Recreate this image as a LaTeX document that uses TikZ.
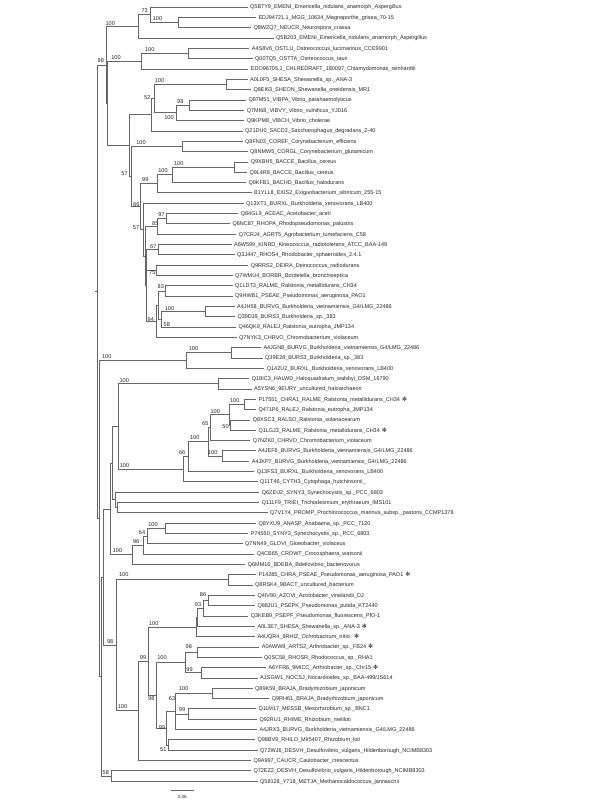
\documentclass[tikz,border=0pt]{standalone}
\usepackage{fontspec}
\newfontfamily\lsans{Liberation Sans}
\newfontfamily\djv{DejaVu Sans}
\newcommand{\mystar}{\hspace{2pt}{\djv\fontsize{6}{6}\selectfont ✻}}
\begin{document}
\begin{tikzpicture}[x=1pt,y=-1pt]
\tikzset{
  br/.style={draw=black!60, line width=0.6pt},
  lf/.style={anchor=west, inner xsep=2.5pt, inner ysep=0pt, text height=4.5pt, text depth=0.5pt, text=black!85, font=\lsans\fontsize{5.5}{6}\selectfont},
  bs/.style={inner sep=0pt, text=black!85, font=\lsans\fontsize{5.6}{6}\selectfont},
}
\useasboundingbox (0,0) rectangle (600,800);
\fill[white] (0,0) rectangle (600,800);
% leaves
\node[lf] (L1) at (247.5,7.00) {Q5B7Y9\_EMENI\_Emericella\_nidulans\_anamorph\_Aspergillus};
\node[lf] (L2) at (255.8,17.32) {EDJ94721.1\_MGG\_10634\_Magnaporthe\_grisea\_70-15};
\node[lf] (L3) at (250.8,27.64) {Q8WZQ7\_NEUCR\_Neurospora\_crassa};
\node[lf] (L4) at (273.5,37.96) {Q5B203\_EMENI\_Emericella\_nidulans\_anamorph\_Aspergillus};
\node[lf] (L5) at (249.2,48.28) {A4S8V6\_OSTLU\_Ostreococcus\_lucimarinus\_CCE9901};
\node[lf] (L6) at (252.5,58.60) {Q00TQ5\_OSTTA\_Ostreococcus\_tauri};
\node[lf] (L7) at (248.2,68.92) {EDO96705.1\_CHLREDRAFT\_180097\_Chlamydomonas\_reinhardtii};
\node[lf] (L8) at (247.5,79.24) {A0L0F5\_SHESA\_Shewanella\_sp.\_ANA-3};
\node[lf] (L9) at (250.8,89.56) {Q8EI63\_SHEON\_Shewanella\_oneidensis\_MR1};
\node[lf] (L10) at (245.8,99.88) {Q87M51\_VIBPA\_Vibrio\_parahaemolyticus};
\node[lf] (L11) at (244.2,110.20) {Q7MI68\_VIBVY\_Vibrio\_vulnificus\_YJ016};
\node[lf] (L12) at (244.2,120.52) {Q9KPM8\_VIBCH\_Vibrio\_cholerae};
\node[lf] (L13) at (242.5,130.84) {Q21DU0\_SACD2\_Saccharophagus\_degradans\_2-40};
\node[lf] (L14) at (242.5,141.16) {Q8FN03\_COREF\_Corynebacterium\_efficiens};
\node[lf] (L15) at (247.5,151.48) {Q8NMW5\_CORGL\_Corynebacterium\_glutamicum};
\node[lf] (L16) at (248.2,161.80) {Q9XBH5\_BACCE\_Bacillus\_cereus};
\node[lf] (L17) at (246.8,172.12) {Q9L4R8\_BACCE\_Bacillus\_cereus};
\node[lf] (L18) at (245.8,182.44) {Q9KFB1\_BACHD\_Bacillus\_halodurans};
\node[lf] (L19) at (251.5,192.76) {B1YLL8\_EXIS2\_Exiguobacterium\_sibiricum\_255-15};
\node[lf] (L20) at (243.5,203.08) {Q13XT1\_BURXL\_Burkholderia\_xenovorans\_LB400};
\node[lf] (L21) at (238.2,213.40) {Q84GL9\_ACEAC\_Acetobacter\_aceti};
\node[lf] (L22) at (229.8,223.72) {Q6NC87\_RHOPA\_Rhodopseudomonas\_palustris};
\node[lf] (L23) at (236.2,234.04) {Q7CRJ4\_AGRT5\_Agrobacterium\_tumefaciens\_C58};
\node[lf] (L24) at (231.5,244.36) {A6W599\_KINRD\_Kineococcus\_radiotolerans\_ATCC\_BAA-149};
\node[lf] (L25) at (234.5,254.68) {Q3J447\_RHOS4\_Rhodobacter\_sphaeroides\_2.4.1};
\node[lf] (L26) at (248.2,265.00) {Q9RRS2\_DEIRA\_Deinococcus\_radiodurans};
\node[lf] (L27) at (232.5,275.32) {Q7WMU4\_BORBR\_Bordetella\_bronchiseptica};
\node[lf] (L28) at (232.5,285.64) {Q1LDT3\_RALME\_Ralstonia\_metallidurans\_CH34};
\node[lf] (L29) at (232.5,295.96) {Q9HWB1\_PSEAE\_Pseudomonas\_aeruginosa\_PAO1};
\node[lf] (L30) at (234.5,306.28) {A4JH58\_BURVG\_Burkholderia\_vietnamiensis\_G4/LMG\_22486};
\node[lf] (L31) at (234.8,316.60) {Q39DJ9\_BURS3\_Burkholderia\_sp.\_383};
\node[lf] (L32) at (235.8,326.92) {Q46QK9\_RALEJ\_Ralstonia\_eutropha\_JMP134};
\node[lf] (L33) at (236.5,337.24) {Q7NYK3\_CHRVO\_Chromobacterium\_violaceum};
\node[lf] (L34) at (260.8,347.56) {A4JGN8\_BURVG\_Burkholderia\_vietnamiensis\_G4/LMG\_22486};
\node[lf] (L35) at (262.5,357.88) {Q39E28\_BURS3\_Burkholderia\_sp.\_383};
\node[lf] (L36) at (264.2,368.20) {Q142U2\_BURXL\_Burkholderia\_xenovorans\_LB400};
\node[lf] (L37) at (249.2,378.52) {Q18IC3\_HALWD\_Haloquadratum\_walsbyi\_DSM\_16790};
\node[lf] (L38) at (251.5,388.84) {A5YSN6\_9EURY\_uncultured\_haloarchaeon};
\node[lf] (L39) at (255.8,399.16) {P17551\_CHRA1\_RALME\_Ralstonia\_metallidurans\_CH34\mystar};
\node[lf] (L40) at (255.8,409.48) {Q471P6\_RALEJ\_Ralstonia\_eutropha\_JMP134};
\node[lf] (L41) at (250.2,419.80) {Q8XSC3\_RALSO\_Ralstonia\_solanacearum};
\node[lf] (L42) at (255.8,430.12) {Q1LGJ3\_RALME\_Ralstonia\_metallidurans\_CH34\mystar};
\node[lf] (L43) at (250.2,440.44) {Q7NZK0\_CHRVO\_Chromobacterium\_violaceum};
\node[lf] (L44) at (255.5,450.76) {A4JEF6\_BURVG\_Burkholderia\_vietnamiensis\_G4/LMG\_22486};
\node[lf] (L45) at (249.2,461.08) {A4JKP7\_BURVG\_Burkholderia\_vietnamiensis\_G4/LMG\_22486};
\node[lf] (L46) at (254.2,471.40) {Q13FS3\_BURXL\_Burkholderia\_xenovorans\_LB400};
\node[lf] (L47) at (257.5,481.72) {Q11T46\_CYTH3\_Cytophaga\_hutchinsonii\_};
\node[lf] (L48) at (259.2,492.04) {Q6ZEU2\_SYNY3\_Synechocystis\_sp.\_PCC\_6803};
\node[lf] (L49) at (259.2,502.36) {Q111F9\_TRIEI\_Trichodesmium\_erythraeum\_IMS101};
\node[lf] (L50) at (267.5,512.68) {Q7V1Y4\_PROMP\_Prochlorococcus\_marinus\_subsp.\_pastoris\_CCMP1378};
\node[lf] (L51) at (255.8,523.00) {Q8YXU9\_ANASP\_Anabaena\_sp.\_PCC\_7120};
\node[lf] (L52) at (248.2,533.32) {P74550\_SYNY3\_Synechocystis\_sp.\_PCC\_6803};
\node[lf] (L53) at (242.5,543.64) {Q7NN49\_GLOVI\_Gloeobacter\_violaceus};
\node[lf] (L54) at (254.2,553.96) {Q4CB65\_CROWT\_Crocosphaera\_watsonii};
\node[lf] (L55) at (245.2,564.28) {Q6MM16\_BDEBA\_Bdellovibrio\_bacteriovorus};
\node[lf] (L56) at (255.8,574.60) {P14285\_CHRA\_PSEAE\_Pseudomonas\_aeruginosa\_PAO1\mystar};
\node[lf] (L57) at (252.5,584.92) {Q8RSK4\_9BACT\_uncultured\_bacterium};
\node[lf] (L58) at (254.8,595.24) {Q4IV90\_AZOVI\_Azotobacter\_vinelandii\_DJ};
\node[lf] (L59) at (254.8,605.56) {Q88JU1\_PSEPK\_Pseudomonas\_putida\_KT2440};
\node[lf] (L60) at (248.2,615.88) {Q3KEB9\_PSEPF\_Pseudomonas\_fluorescens\_PfO-1};
\node[lf] (L61) at (254.8,626.20) {A0L3E7\_SHESA\_Shewanella\_sp.\_ANA-3\mystar};
\node[lf] (L62) at (254.8,636.52) {A4UQR4\_9RHIZ\_Ochrobactrum\_tritici\hspace{1.5pt}\mystar};
\node[lf] (L63) at (259.2,646.84) {A0AWW9\_ARTS2\_Arthrobacter\_sp.\_FB24\mystar};
\node[lf] (L64) at (261.5,657.16) {Q0SC58\_RHOSR\_Rhodococcus\_sp.\_RHA1};
\node[lf] (L65) at (265.8,667.48) {A6YFR6\_9MICC\_Arthrobacter\_sp.\_Chr15\mystar};
\node[lf] (L66) at (257.5,677.80) {A1SGW1\_NOCSJ\_Nocardioides\_sp.\_BAA-499/JS614};
\node[lf] (L67) at (252.5,688.12) {Q89K59\_BRAJA\_Bradyrhizobium\_japonicum};
\node[lf] (L68) at (269.2,698.44) {Q9RH61\_BRAJA\_Bradyrhizobium\_japonicum};
\node[lf] (L69) at (255.8,708.76) {Q11M17\_MESSB\_Mesorhizobium\_sp.\_BNC1};
\node[lf] (L70) at (256.8,719.08) {Q92RU1\_RHIME\_Rhizobium\_meliloti};
\node[lf] (L71) at (256.8,729.40) {A4JRX3\_BURVG\_Burkholderia\_vietnamiensis\_G4/LMG\_22486};
\node[lf] (L72) at (254.8,739.72) {Q98BV9\_RHILO\_Mlr5407\_Rhizobium\_loti};
\node[lf] (L73) at (257.5,750.04) {Q72WJ6\_DESVH\_Desulfovibrio\_vulgaris\_Hildenborough\_NCIMB8303};
\node[lf] (L74) at (250.8,760.36) {Q9A997\_CAUCR\_Caulobacter\_crescentus};
\node[lf] (L75) at (250.8,770.68) {Q72EZ2\_DESVH\_Desulfovibrio\_vulgaris\_Hildenborough\_NCIMB8303};
\node[lf] (L76) at (257.5,781.00) {Q58128\_Y718\_METJA\_Methanocaldococcus\_jannaschii};
% internal nodes
\coordinate (iroot) at (97.3,291.6);
\coordinate (istub) at (95.3,291.6);
\coordinate (iB) at (106,64.87);
\coordinate (iFu) at (138.3,26.35);
\coordinate (i73) at (150.7,14.74);
\coordinate (i23) at (178,22.48);
\coordinate (iC) at (107.3,103.38);
\coordinate (iAlg) at (141.7,61.18);
\coordinate (i56) at (188.3,53.44);
\coordinate (iD) at (129.3,145.58);
\coordinate (iY) at (151.7,114.7);
\coordinate (iX) at (154,98.59);
\coordinate (i89) at (226.7,84.4);
\coordinate (i176) at (176,112.78);
\coordinate (i1011) at (189,105.04);
\coordinate (iE) at (131.5,176.46);
\coordinate (i1415) at (182.7,146.32);
\coordinate (iF) at (140.7,206.6);
\coordinate (i99) at (157.3,183.73);
\coordinate (i100b) at (172.7,174.7);
\coordinate (i1617) at (234.3,166.96);
\coordinate (iG) at (143.5,229.44);
\coordinate (iH) at (145,255.8);
\coordinate (i85) at (157.3,226.3);
\coordinate (i2122) at (166.7,218.56);
\coordinate (iI) at (146.5,285.3);
\coordinate (i67) at (158.3,249.52);
\coordinate (i75) at (156.7,270.16);
\coordinate (i94) at (156.7,321.1);
\coordinate (iU1) at (158.3,304.99);
\coordinate (i83) at (165,290.8);
\coordinate (i58) at (161.7,319.18);
\coordinate (i3031) at (205,311.44);
\coordinate (ir) at (99.3,518.4);
\coordinate (iBk) at (186.7,360.46);
\coordinate (i3435) at (231.7,352.72);
\coordinate (iq) at (101.7,676.4);
\coordinate (io) at (111,775.84);
\coordinate (ip) at (103.3,577.0);
\coordinate (iT) at (110.7,508.85);
\coordinate (iU) at (112.7,463.1);
\coordinate (iJ) at (118.3,426.41);
\coordinate (i3738) at (218.3,383.68);
\coordinate (iLc) at (183.3,469.14);
\coordinate (iQ) at (188.3,456.57);
\coordinate (iO) at (208.3,441.73);
\coordinate (iN) at (210,427.54);
\coordinate (iM) at (229.3,414.64);
\coordinate (i3940) at (244,404.32);
\coordinate (i4142) at (230.7,424.96);
\coordinate (i4445) at (222.7,455.92);
\coordinate (iS) at (115,499.78);
\coordinate (iR) at (117.3,507.52);
\coordinate (iX2) at (132.7,554.6);
\coordinate (i96) at (143.3,544.93);
\coordinate (iW) at (147.7,535.9);
\coordinate (i5152) at (165.7,528.16);
\coordinate (inn) at (116.7,645.2);
\coordinate (i5657) at (228.3,579.76);
\coordinate (ih) at (138.3,710.7);
\coordinate (ic) at (148.3,661.0);
\coordinate (ib) at (196,626.85);
\coordinate (ia) at (196.8,617.17);
\coordinate (i93) at (203.3,608.14);
\coordinate (i5859) at (208.3,600.4);
\coordinate (ie) at (156.7,695.2);
\coordinate (id) at (185,662.32);
\coordinate (i6364) at (197.5,652.0);
\coordinate (i6566) at (201.7,672.64);
\coordinate (il) at (166.7,728.11);
\coordinate (ij) at (175.5,711.34);
\coordinate (i6768) at (212.7,693.28);
\coordinate (i6970) at (188.3,713.92);
\coordinate (i7273) at (168.3,744.88);
% branches
\draw[br] (istub) -- (iroot);
\foreach \p/\c in {iroot/iB, iroot/ir, iB/iFu, iB/iC, iFu/i73, iFu/L4.west, i73/L1.west, i73/i23,
  i23/L2.west, i23/L3.west, iC/iAlg, iC/iD, iAlg/i56, iAlg/L7.west, i56/L5.west, i56/L6.west,
  iD/iY, iD/iE, iY/iX, iY/L13.west, iX/i89, iX/i176, i89/L8.west, i89/L9.west,
  i176/i1011, i176/L12.west, i1011/L10.west, i1011/L11.west, iE/i1415, iE/iF,
  i1415/L14.west, i1415/L15.west, iF/i99, iF/iG, i99/i100b, i99/L19.west,
  i100b/i1617, i100b/L18.west, i1617/L16.west, i1617/L17.west, iG/L20.west, iG/iH,
  iH/i85, iH/iI, i85/i2122, i85/L23.west, i2122/L21.west, i2122/L22.west,
  iI/i67, iI/i75, iI/i94, i67/L24.west, i67/L25.west, i75/L26.west, i75/L27.west,
  i94/iU1, i94/L33.west, iU1/i83, iU1/i58, i83/L28.west, i83/L29.west,
  i58/i3031, i58/L32.west, i3031/L30.west, i3031/L31.west,
  ir/iBk, ir/iq, iBk/i3435, iBk/L36.west, i3435/L34.west, i3435/L35.west,
  iq/ip, iq/io, io/L75.west, io/L76.west, ip/iT, ip/inn, iT/iU, iT/iX2, iU/iJ, iU/iS,
  iJ/i3738, iJ/iLc, i3738/L37.west, i3738/L38.west, iLc/iQ, iLc/L47.west,
  iQ/iO, iQ/L46.west, iO/iN, iO/i4445, iN/iM, iN/L43.west, iM/i3940, iM/i4142,
  i3940/L39.west, i3940/L40.west, i4142/L41.west, i4142/L42.west,
  i4445/L44.west, i4445/L45.west, iS/L48.west, iS/iR, iR/L49.west, iR/L50.west,
  iX2/i96, iX2/L55.west, i96/iW, i96/L54.west, iW/i5152, iW/L53.west,
  i5152/L51.west, i5152/L52.west, inn/i5657, inn/ih, i5657/L56.west, i5657/L57.west,
  ih/ic, ih/L74.west, ic/ib, ic/ie, ib/ia, ib/L62.west, ia/i93, ia/L61.west,
  i93/i5859, i93/L60.west, i5859/L58.west, i5859/L59.west, ie/id, ie/il,
  id/i6364, id/i6566, i6364/L63.west, i6364/L64.west, i6566/L65.west, i6566/L66.west,
  il/ij, il/i7273, ij/i6768, ij/i6970, ij/L71.west, i6768/L67.west, i6768/L68.west,
  i6970/L69.west, i6970/L70.west, i7273/L72.west, i7273/L73.west}
  \draw[br] (\p) |- (\c);
% bootstrap values
\node[bs] (b1) at (144.7,11) {73};
\node[bs] (b2) at (157.5,18.3) {100};
\node[bs] (b3) at (110.3,23.3) {100};
\node[bs] (b4) at (149.7,49.3) {100};
\node[bs] (b5) at (116,57.3) {100};
\node[bs] (b6) at (100.8,61) {98};
\node[bs] (b7) at (159.5,80.3) {100};
\node[bs] (b8) at (147.3,98) {52};
\node[bs] (b9) at (180.3,101.3) {98};
\node[bs] (b10) at (169,117.7) {100};
\node[bs] (b11) at (141,142.7) {100};
\node[bs] (b12) at (124.5,173.3) {57};
\node[bs] (b13) at (178.7,163.3) {100};
\node[bs] (b14) at (163,170.7) {100};
\node[bs] (b15) at (145.3,180) {99};
\node[bs] (b16) at (136.3,204.5) {86};
\node[bs] (b17) at (161.5,214.7) {97};
\node[bs] (b18) at (136,227.7) {57};
\node[bs] (b19) at (155.3,223.3) {85};
\node[bs] (b20) at (153.3,246.7) {67};
\node[bs] (b21) at (152.3,272.7) {75};
\node[bs] (b22) at (160.8,286.7) {83};
\node[bs] (b23) at (169.5,308.7) {100};
\node[bs] (b24) at (150.8,319.7) {94};
\node[bs] (b25) at (166.8,324.7) {58};
\node[bs] (b26) at (193.5,348.7) {100};
\node[bs] (b27) at (106.7,356.3) {100};
\node[bs] (b28) at (124.2,380.7) {100};
\node[bs] (b29) at (234.7,400.7) {100};
\node[bs] (b30) at (215.3,411.7) {100};
\node[bs] (b31) at (205.3,423.3) {65};
\node[bs] (b32) at (225.5,426.7) {50};
\node[bs] (b33) at (194.7,438) {100};
\node[bs] (b34) at (182.2,452.7) {66};
\node[bs] (b35) at (212.8,452.7) {100};
\node[bs] (b36) at (124.5,465.3) {100};
\node[bs] (b37) at (153,524.7) {100};
\node[bs] (b38) at (142,532.3) {64};
\node[bs] (b39) at (136.2,541.3) {96};
\node[bs] (b40) at (117.5,550.7) {100};
\node[bs] (b41) at (123.7,574.7) {100};
\node[bs] (b42) at (203,595) {86};
\node[bs] (b43) at (198,604.3) {93};
\node[bs] (b44) at (153.8,623.3) {100};
\node[bs] (b45) at (110.2,641.7) {98};
\node[bs] (b46) at (188.8,647) {98};
\node[bs] (b47) at (143,658) {99};
\node[bs] (b48) at (162,658) {100};
\node[bs] (b49) at (189.5,669.7) {99};
\node[bs] (b50) at (183.7,688.7) {100};
\node[bs] (b51) at (151.3,698.7) {98};
\node[bs] (b52) at (172,698.7) {63};
\node[bs] (b53) at (182,709.7) {99};
\node[bs] (b54) at (122.5,707) {100};
\node[bs] (b55) at (162,727.3) {99};
\node[bs] (b56) at (163.3,749.3) {51};
\node[bs] (b57) at (105.8,772.7) {58};
% scale bar
\coordinate (sc1) at (170.7,790);
\coordinate (sc2) at (194,790);
\draw[br] (sc1) -- (sc2);
\node[bs, font=\lsans\fontsize{4.6}{5}\selectfont] (scl) at (182.3,796.7) {0.06};
\end{tikzpicture}
\end{document}
